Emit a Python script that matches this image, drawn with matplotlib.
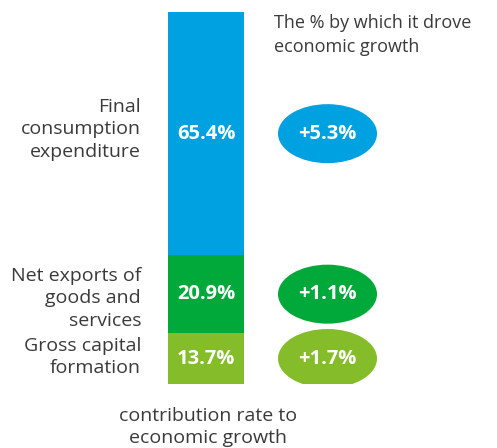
import matplotlib
matplotlib.use("Agg")
from matplotlib import pyplot as plt
from matplotlib.patches import Ellipse

plt.rcParams['font.family'] = ['Open Sans', 'DejaVu Sans']

# contribution rate of each component (bottom to top)
componentes = ["Gross capital\nformation", "Net exports of\ngoods and\nservices", "Final\nconsumption\nexpenditure"]
contribuicao = [13.7, 20.9, 65.4]
impulso = [1.7, 1.1, 5.3]
cores = ["#84BD29", "#00A93A", "#00A1E0"]

TEXTO = "#3a3a3a"

fig = plt.figure(figsize=(4.97, 4.48), dpi=100)
ax = fig.add_axes([0, 64 / 448, 1, 372 / 448])
ax.set_xlim(0, 497)
ax.set_ylim(0, sum(contribuicao))
ax.axis("off")

x_barra = 206
x_elipse = 327.5
altura_elipse = 59 / 372 * sum(contribuicao)
desloc_rotulo = [1, -3, 3]  # ajuste vertical dos rotulos (pt)

base = 0
for nome, valor, imp, cor, dy in zip(componentes, contribuicao, impulso, cores, desloc_rotulo):
    ax.bar(x_barra, valor, bottom=base, width=76, color=cor, linewidth=0)
    meio = base + valor / 2
    ax.text(x_barra, meio, f"{valor:.1f}%", color="white", fontsize=14.5,
            fontweight="bold", ha="center", va="center")
    ax.add_patch(Ellipse((x_elipse, meio), 99, altura_elipse, color=cor, linewidth=0))
    ax.text(x_elipse, meio, f"+{imp:.1f}%", color="white", fontsize=14.5,
            fontweight="bold", ha="center", va="center")
    ax.annotate(nome, (141, meio), xytext=(0, dy), textcoords="offset points",
                color=TEXTO, fontsize=14, ha="right", va="center",
                linespacing=1.3, annotation_clip=False)
    base += valor

fig.text(274 / 497, 1 - 35 / 448, "The % by which it drove\neconomic growth",
         color=TEXTO, fontsize=13, ha="left", va="center", linespacing=1.5)
fig.text(208 / 497, 1 - 427 / 448, "contribution rate to\neconomic growth",
         color=TEXTO, fontsize=14, ha="center", va="center", linespacing=1.3)

fig.savefig("out.png", dpi=100)
